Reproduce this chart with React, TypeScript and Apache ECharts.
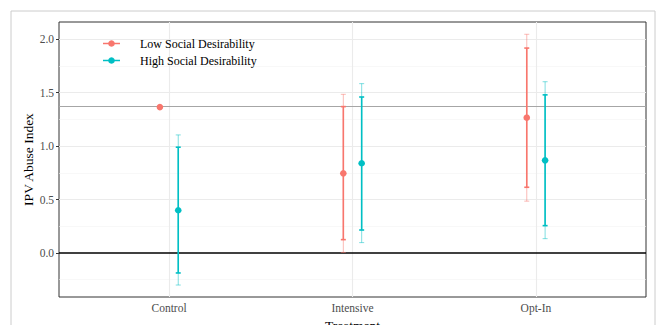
import React, { useEffect, useRef } from "react";
import * as echarts from "echarts";

const categories = ["Control", "Intensive", "Opt-In"];
const yTicks = [0, 0.5, 1, 1.5, 2];
const yMinor = [-0.25, 0.25, 0.75, 1.25, 1.75];
const seriesNames = ["Low Social Desirability", "High Social Desirability"];

const lowEst = [1.366, 0.746, 1.266];
const lowInnerLo = [null, 0.125, 0.615];
const lowInnerHi = [null, 1.37, 1.918];
const lowOuterLo = [null, 0.005, 0.485];
const lowOuterHi = [null, 1.485, 2.047];

const highEst = [0.4, 0.84, 0.867];
const highInnerLo = [-0.187, 0.215, 0.256];
const highInnerHi = [0.99, 1.46, 1.48];
const highOuterLo = [-0.3, 0.097, 0.134];
const highOuterHi = [1.105, 1.585, 1.603];

const controlMean = 1.366;

const RED = "#F8766D";
const TEAL = "#00BFC4";
const FONT = "Liberation Serif";

function buildData(est: number[], ilo: (number | null)[], ihi: (number | null)[], olo: (number | null)[], ohi: (number | null)[]) {
  return est.map((e, i) => [i + 1, e, ilo[i], ihi[i], olo[i], ohi[i]]);
}

function makeRender(offset: number, color: string) {
  return (params: any, api: any) => {
    const x = api.value(0) + offset;
    const est = api.value(1);
    const ilo = api.value(2);
    const ihi = api.value(3);
    const olo = api.value(4);
    const ohi = api.value(5);
    const children: any[] = [];
    const cap = 2.5;
    const hasBars = ilo !== null && !isNaN(ilo) && ihi !== null && !isNaN(ihi);
    if (hasBars) {
      const pOlo = api.coord([x, olo]);
      const pOhi = api.coord([x, ohi]);
      const pIlo = api.coord([x, ilo]);
      const pIhi = api.coord([x, ihi]);
      const outerStyle = { stroke: color, lineWidth: 1, opacity: 0.5 };
      const innerStyle = { stroke: color, lineWidth: 1.6 };
      children.push(
        { type: "line", shape: { x1: pOlo[0], y1: pOlo[1], x2: pOhi[0], y2: pOhi[1] }, style: outerStyle },
        { type: "line", shape: { x1: pOlo[0] - cap, y1: pOlo[1], x2: pOlo[0] + cap, y2: pOlo[1] }, style: outerStyle },
        { type: "line", shape: { x1: pOhi[0] - cap, y1: pOhi[1], x2: pOhi[0] + cap, y2: pOhi[1] }, style: outerStyle },
        { type: "line", shape: { x1: pIlo[0], y1: pIlo[1], x2: pIhi[0], y2: pIhi[1] }, style: innerStyle },
        { type: "line", shape: { x1: pIlo[0] - cap, y1: pIlo[1], x2: pIlo[0] + cap, y2: pIlo[1] }, style: innerStyle },
        { type: "line", shape: { x1: pIhi[0] - cap, y1: pIhi[1], x2: pIhi[0] + cap, y2: pIhi[1] }, style: innerStyle }
      );
    }
    const p = api.coord([x, est]);
    children.push({ type: "circle", shape: { cx: p[0], cy: p[1], r: 3.3 }, style: { fill: color } });
    return { type: "group", children };
  };
}

export default function App() {
  const ref = useRef<HTMLDivElement>(null);
  useEffect(() => {
    document.body.style.margin = "0";
    if (!ref.current) return;
    const chart = echarts.init(ref.current, null, { renderer: "svg" });
    const hLine = (y: number, color: string, width: number) => ({
      yAxis: y,
      lineStyle: { color, width, type: "solid" },
    });
    const vLine = (x: number, color: string, width: number) => ({
      xAxis: x,
      lineStyle: { color, width, type: "solid" },
    });
    chart.setOption({
      animation: false,
      backgroundColor: "#ffffff",
      textStyle: { fontFamily: FONT },
      grid: {
        left: 59,
        top: 22,
        width: 587,
        height: 275,
        outerBoundsMode: "none",
        containLabel: false,
        show: true,
        borderColor: "#333333",
        borderWidth: 1,
        backgroundColor: "transparent",
      },
      xAxis: {
        type: "value",
        min: 0.4,
        max: 3.6,
        name: "Treatment",
        nameLocation: "middle",
        nameGap: 21,
        nameMoveOverlap: false,
        nameTextStyle: { fontFamily: FONT, fontSize: 13.5, color: "#000" },
        axisLine: { show: false },
        splitLine: { show: false },
        axisTick: { show: true, customValues: [1, 2, 3], length: 3, lineStyle: { color: "#333" } },
        axisLabel: {
          customValues: [1, 2, 3],
          formatter: (v: number) => categories[Math.round(v) - 1],
          fontFamily: FONT,
          fontSize: 11.5,
          color: "#4d4d4d",
          margin: 5,
        },
      },
      yAxis: {
        type: "value",
        min: -0.412,
        max: 2.162,
        name: "IPV Abuse Index",
        nameLocation: "middle",
        nameGap: 24,
        nameMoveOverlap: false,
        nameTextStyle: { fontFamily: FONT, fontSize: 13.5, color: "#000" },
        axisLine: { show: false },
        splitLine: { show: false },
        axisTick: { show: true, customValues: yTicks, length: 3, lineStyle: { color: "#333" } },
        axisLabel: {
          customValues: yTicks,
          formatter: (v: number) => v.toFixed(1),
          fontFamily: FONT,
          fontSize: 11.5,
          color: "#4d4d4d",
          margin: 5,
        },
      },
      graphic: [
        {
          type: "rect",
          shape: { x: 11, y: 11, width: 644, height: 340 },
          style: { fill: "none", stroke: "#cccccc", lineWidth: 1 },
          silent: true,
          z: 0,
        },
        {
          type: "rect",
          shape: { x: 100, y: 29, width: 165, height: 40 },
          style: { fill: "#ffffff" },
          silent: true,
          z: 5,
        },
        {
          type: "line",
          shape: { x1: 103, y1: 43.5, x2: 120, y2: 43.5 },
          style: { stroke: RED, lineWidth: 1.5 },
          z: 6,
        },
        { type: "circle", shape: { cx: 111.5, cy: 43.5, r: 3.3 }, style: { fill: RED }, z: 6 },
        {
          type: "line",
          shape: { x1: 103, y1: 60.5, x2: 120, y2: 60.5 },
          style: { stroke: TEAL, lineWidth: 1.5 },
          z: 6,
        },
        { type: "circle", shape: { cx: 111.5, cy: 60.5, r: 3.3 }, style: { fill: TEAL }, z: 6 },
        {
          type: "text",
          x: 140,
          y: 43.5,
          style: { text: seriesNames[0], fontFamily: FONT, fontSize: 12, fill: "#000", verticalAlign: "middle" },
          z: 6,
        },
        {
          type: "text",
          x: 140,
          y: 60.5,
          style: { text: seriesNames[1], fontFamily: FONT, fontSize: 12, fill: "#000", verticalAlign: "middle" },
          z: 6,
        },
      ],
      series: [
        {
          type: "line",
          data: [],
          z: 1,
          silent: true,
          markLine: {
            silent: true,
            symbol: "none",
            label: { show: false },
            data: [
              ...yMinor.map((y) => hLine(y, "#f3f3f3", 0.6)),
              ...yTicks.filter((y) => y !== 0).map((y) => hLine(y, "#ebebeb", 1.1)),
              ...[1, 2, 3].map((x) => vLine(x, "#ebebeb", 1.1)),
            ],
          },
        },
        {
          type: "line",
          data: [],
          z: 3,
          silent: true,
          markLine: {
            silent: true,
            symbol: "none",
            label: { show: false },
            data: [hLine(0, "#000000", 1.5), hLine(controlMean, "#a6a6a6", 1.2)],
          },
        },
        {
          name: seriesNames[0],
          type: "custom",
          z: 10,
          renderItem: makeRender(-0.05, RED),
          data: buildData(lowEst, lowInnerLo, lowInnerHi, lowOuterLo, lowOuterHi),
          encode: { x: 0, y: 1 },
        },
        {
          name: seriesNames[1],
          type: "custom",
          z: 10,
          renderItem: makeRender(0.05, TEAL),
          data: buildData(highEst, highInnerLo, highInnerHi, highOuterLo, highOuterHi),
          encode: { x: 0, y: 1 },
        },
      ],
    });
    return () => chart.dispose();
  }, []);
  return <div ref={ref} style={{ width: 657, height: 325 }} />;
}
